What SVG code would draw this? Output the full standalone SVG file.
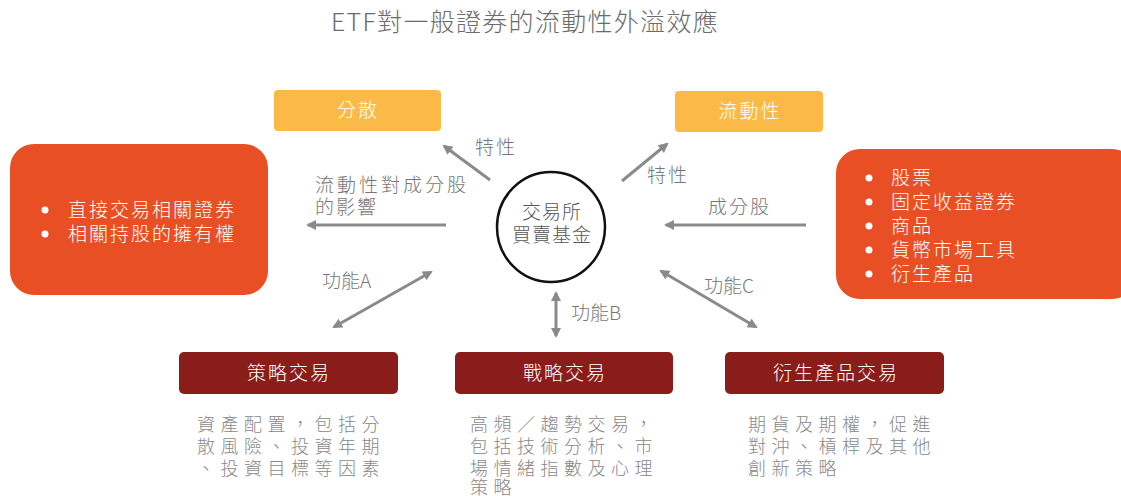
<svg xmlns="http://www.w3.org/2000/svg" width="1121" height="496" viewBox="0 0 1121 496">
<defs>
<style>
text{font-family:"Noto Sans CJK TC","Noto Sans CJK SC",sans-serif;font-weight:300}
.title{font-size:25px;fill:#6b6b6b;letter-spacing:1.3px}
.w{fill:#fff;font-size:19px;letter-spacing:2px}
.lbl{fill:#777;font-size:19px;letter-spacing:2px}
.desc{fill:#888;font-size:18px;letter-spacing:5.5px}
.yel{fill:#FBBA48}
.org{fill:#E84F24}
.red{fill:#8A1D1A}
.arr{stroke:#8a8a8a;stroke-width:3;fill:none}
</style>
<marker id="ah" viewBox="0 0 10 10" refX="8" refY="5" markerWidth="12" markerHeight="10" markerUnits="userSpaceOnUse" orient="auto-start-reverse">
<path d="M0,0 L10,5 L0,10 Z" fill="#8a8a8a"/>
</marker>
</defs>
<rect width="1121" height="496" fill="#fff"/>
<text class="title" x="525" y="31" text-anchor="middle">ETF對一般證券的流動性外溢效應</text>

<g id="node-disperse">
<rect class="yel" x="274" y="90" width="167" height="41" rx="4"/>
<text class="w" x="358" y="117" text-anchor="middle">分散</text>
</g>
<g id="node-liquidity">
<rect class="yel" x="675" y="91" width="148" height="41" rx="4"/>
<text class="w" x="750" y="118" text-anchor="middle">流動性</text>
</g>
<g id="node-left">
<rect class="org" x="10" y="144" width="258" height="151" rx="24"/>
<circle cx="45" cy="210" r="3.5" fill="#fff"/>
<circle cx="45" cy="234" r="3.5" fill="#fff"/>
<text class="w" x="68" y="217">直接交易相關證券</text>
<text class="w" x="68" y="241">相關持股的擁有權</text>
</g>
<g id="node-right">
<rect class="org" x="836" y="149" width="300" height="150" rx="24"/>
<circle cx="869" cy="178" r="3.5" fill="#fff"/>
<circle cx="869" cy="202" r="3.5" fill="#fff"/>
<circle cx="869" cy="226" r="3.5" fill="#fff"/>
<circle cx="869" cy="250" r="3.5" fill="#fff"/>
<circle cx="869" cy="274" r="3.5" fill="#fff"/>
<text class="w" x="891" y="185">股票</text>
<text class="w" x="891" y="209">固定收益證券</text>
<text class="w" x="891" y="233">商品</text>
<text class="w" x="891" y="257">貨幣市場工具</text>
<text class="w" x="891" y="281">衍生產品</text>
</g>
<g id="node-center">
<ellipse cx="551" cy="227" rx="54" ry="55" fill="#fff" stroke="#111" stroke-width="2.5"/>
<text class="lbl" x="552" y="219" text-anchor="middle" style="fill:#555;letter-spacing:1px">交易所</text>
<text class="lbl" x="552" y="242" text-anchor="middle" style="fill:#555;letter-spacing:1px">買賣基金</text>
</g>
<g id="node-strategy">
<rect class="red" x="179" y="352" width="219" height="42" rx="5"/>
<text class="w" x="289" y="380" text-anchor="middle">策略交易</text>
<text class="desc" x="197" y="431">資產配置，包括分</text>
<text class="desc" x="197" y="453">散風險、投資年期</text>
<text class="desc" x="197" y="475">、投資目標等因素</text>
</g>
<g id="node-tactical">
<rect class="red" x="455" y="352" width="218" height="42" rx="5"/>
<text class="w" x="565" y="380" text-anchor="middle">戰略交易</text>
<text class="desc" x="470" y="431">高頻／趨勢交易，</text>
<text class="desc" x="470" y="453">包括技術分析、市</text>
<text class="desc" x="470" y="475">場情緒指數及心理</text>
<text class="desc" x="470" y="494">策略</text>
</g>
<g id="node-derivative">
<rect class="red" x="725" y="352" width="219" height="42" rx="5"/>
<text class="w" x="836" y="380" text-anchor="middle">衍生產品交易</text>
<text class="desc" x="748" y="431">期貨及期權，促進</text>
<text class="desc" x="748" y="453">對沖、槓桿及其他</text>
<text class="desc" x="748" y="475">創新策略</text>
</g>

<g id="connectors">
<line class="arr" x1="490" y1="180" x2="444" y2="146" marker-end="url(#ah)"/>
<text class="lbl" x="475" y="154">特性</text>
<line class="arr" x1="622" y1="181" x2="667" y2="144" marker-end="url(#ah)"/>
<text class="lbl" x="647" y="182">特性</text>
<line class="arr" x1="446" y1="225" x2="308" y2="225" marker-end="url(#ah)"/>
<text class="lbl" x="315" y="192" style="letter-spacing:3px">流動性對成分股</text>
<text class="lbl" x="315" y="214">的影響</text>
<line class="arr" x1="806" y1="225" x2="666" y2="225" marker-end="url(#ah)"/>
<text class="lbl" x="708" y="214">成分股</text>
<line class="arr" x1="431" y1="272" x2="334" y2="327" marker-start="url(#ah)" marker-end="url(#ah)"/>
<text class="lbl" x="322" y="288" style="letter-spacing:0">功能A</text>
<line class="arr" x1="556" y1="293" x2="556" y2="336" marker-start="url(#ah)" marker-end="url(#ah)"/>
<text class="lbl" x="571" y="320" style="letter-spacing:0">功能B</text>
<line class="arr" x1="661" y1="271" x2="756" y2="327" marker-start="url(#ah)" marker-end="url(#ah)"/>
<text class="lbl" x="704" y="293" style="letter-spacing:0">功能C</text>
</g>
</svg>
